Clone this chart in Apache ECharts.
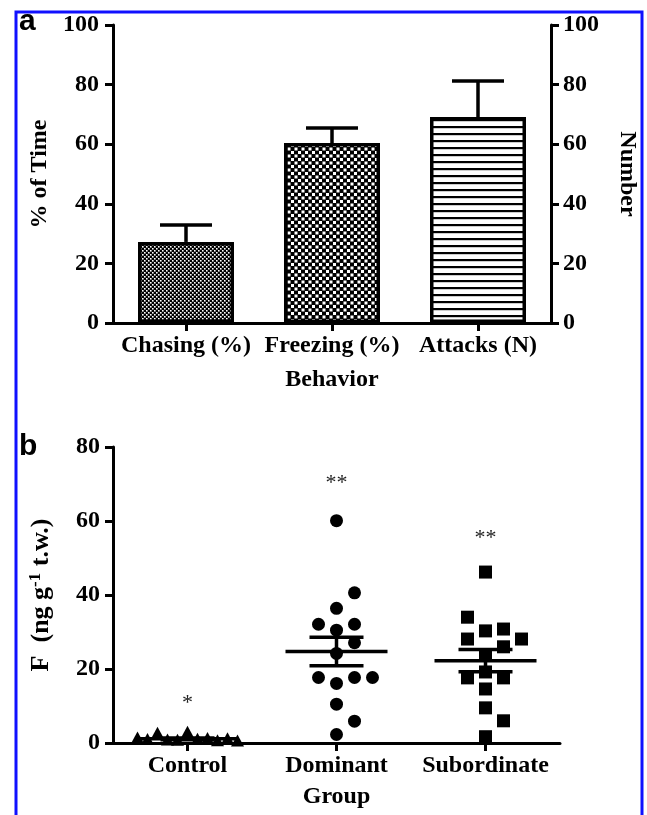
<!DOCTYPE html>
<html>
<head>
<meta charset="utf-8">
<script src="https://cdn.jsdelivr.net/npm/echarts@6/dist/echarts.min.js"></script>
<style>
  html, body { margin: 0; padding: 0; background: #fff; }
  #chart { width: 647px; height: 815px; }
</style>
</head>
<body>
<div id="chart"></div>
<script>
// panel a: behaviour (mean + SEM)
const behaviors = ['Chasing (%)', 'Freezing (%)', 'Attacks (N)'];
const behaviorMean = [27.2, 60.4, 69.1];
const behaviorSem = [5.7, 5.0, 12.1];

// panel b: F levels per group (ng g-1 t.w.)
const groups = ['Control', 'Dominant', 'Subordinate'];
const controlF = [2.8, 0.9, 0.6, 1.1, 0.7, 0.5, 2.5, 1.0, 0.8, 0.4, 1.2];
const dominantF = [2.3, 5.9, 10.5, 16.1, 17.7, 17.7, 17.7, 24.2, 27.1, 30.5, 32.1, 32.1, 36.4, 40.6, 60.1];
const subordinateF = [1.7, 6.0, 9.5, 14.6, 17.6, 17.6, 19.2, 23.8, 26.0, 28.1, 28.1, 30.3, 30.8, 34.0, 46.2];
const starText = ['*', '**', '**'];
const starLevel = [12.2, 71.6, 56.8];

const SERIF = '"Liberation Serif", "Times New Roman", serif';
const gridA = { left: 113, top: 25, width: 440, height: 298 };
const gridB = { left: 113, top: 447, width: 447, height: 296 };
const pxPerUnitB = gridB.height / 80;

function pattern(w, h, draw) {
  const c = document.createElement('canvas');
  c.width = w; c.height = h;
  draw(c.getContext('2d'));
  return { image: c, repeat: 'repeat' };
}
const chaseFill = pattern(4, 4, ctx => {
  ctx.fillStyle = '#000'; ctx.fillRect(0, 0, 4, 4);
  ctx.fillStyle = '#fff'; ctx.fillRect(0, 0, 1.6, 1.6); ctx.fillRect(2, 2, 1.6, 1.6);
});
const freezeFill = pattern(7, 7, ctx => {
  ctx.fillStyle = '#000'; ctx.fillRect(0, 0, 7, 7);
  ctx.fillStyle = '#fff'; ctx.fillRect(0.5, 0.5, 3, 3); ctx.fillRect(4, 4, 3, 3);
});
const attackFill = pattern(4, 7, ctx => {
  ctx.fillStyle = '#fff'; ctx.fillRect(0, 0, 4, 7);
  ctx.fillStyle = '#000'; ctx.fillRect(0, 0, 4, 2.2);
});
const barFills = [chaseFill, freezeFill, attackFill];

// simple beeswarm: put each point in the nearest free lane
function swarm(values, spacing, diam) {
  const placed = [];
  return values.map(v => {
    const y = v * pxPerUnitB;
    for (let k = 0; ; k++) {
      const lane = k === 0 ? 0 : (k % 2 ? (k + 1) / 2 : -k / 2);
      const dx = lane * spacing;
      if (placed.every(p => Math.hypot(p.dx - dx, p.y - y) >= diam)) {
        placed.push({ dx, y });
        return dx;
      }
    }
  });
}

function meanSem(arr) {
  const m = arr.reduce((a, b) => a + b, 0) / arr.length;
  const sd = Math.sqrt(arr.reduce((a, b) => a + (b - m) * (b - m), 0) / (arr.length - 1));
  return [m, sd / Math.sqrt(arr.length)];
}

function dotSeries(gi, values, shape, spacing, diam) {
  const dx = swarm(values, spacing, diam);
  return {
    type: 'custom', xAxisIndex: 1, yAxisIndex: 2, z: 5,
    data: values.map((v, k) => [gi, v, dx[k]]),
    renderItem: (params, api) => {
      const p = api.coord([api.value(0), api.value(1)]);
      const x = p[0] + api.value(2), y = p[1];
      const st = { fill: '#000' };
      if (shape === 'circle') return { type: 'circle', shape: { cx: x, cy: y, r: 6.5 }, style: st };
      if (shape === 'square') return { type: 'rect', shape: { x: x - 6.5, y: y - 6.5, width: 13, height: 13 }, style: st };
      return { type: 'polygon', shape: { points: [[x, y - 7], [x + 6.5, y + 5], [x - 6.5, y + 5]] }, style: st };
    }
  };
}

const stats = [controlF, dominantF, subordinateF].map(meanSem);

const lineStyle = { stroke: '#000', lineWidth: 3.5 };
const axisBase = {
  axisLine: { show: true, lineStyle: { color: '#000', width: 3 } },
  axisTick: { show: true, length: 8, lineStyle: { color: '#000', width: 3 } },
  splitLine: { show: false },
  nameLocation: 'middle',
  nameTextStyle: { fontFamily: SERIF, fontWeight: 'bold', fontSize: 24, color: '#000' }
};
const labelBase = { fontFamily: SERIF, fontWeight: 'bold', fontSize: 24, color: '#000' };

const chart = echarts.init(document.getElementById('chart'));
chart.setOption({
  animation: false,
  backgroundColor: '#fff',
  grid: [gridA, gridB],
  xAxis: [
    Object.assign({}, axisBase, {
      gridIndex: 0, type: 'category', data: behaviors,
      axisTick: Object.assign({}, axisBase.axisTick, { alignWithLabel: true }),
      axisLabel: Object.assign({ margin: 11, interval: 0 }, labelBase),
      name: 'Behavior', nameGap: 45
    }),
    Object.assign({}, axisBase, {
      gridIndex: 1, type: 'category', data: groups,
      axisTick: Object.assign({}, axisBase.axisTick, { alignWithLabel: true }),
      axisLabel: Object.assign({ margin: 11, interval: 0 }, labelBase),
      name: 'Group', nameGap: 42
    })
  ],
  yAxis: [
    Object.assign({}, axisBase, {
      gridIndex: 0, type: 'value', min: 0, max: 100, interval: 20,
      axisLabel: Object.assign({ margin: 14 }, labelBase),
      name: '% of Time', nameGap: 56
    }),
    Object.assign({}, axisBase, {
      gridIndex: 0, type: 'value', position: 'right', min: 0, max: 100, interval: 20,
      axisLabel: Object.assign({ margin: 12 }, labelBase),
      name: 'Number', nameGap: 64, nameRotate: -90
    }),
    Object.assign({}, axisBase, {
      gridIndex: 1, type: 'value', min: 0, max: 80, interval: 20,
      axisLabel: Object.assign({ margin: 13 }, labelBase),
      name: '{n|F  (ng g}{s|-1}{n| t.w.)}', nameGap: 58,
      nameTextStyle: {
        rich: {
          n: { fontFamily: SERIF, fontWeight: 'bold', fontSize: 26, color: '#000', lineHeight: 28 },
          s: { fontFamily: SERIF, fontWeight: 'bold', fontSize: 17, color: '#000', verticalAlign: 'top', lineHeight: 28 }
        }
      }
    })
  ],
  graphic: [
    { type: 'rect', shape: { x: 16, y: 12, width: 626, height: 830 }, style: { fill: 'none', stroke: '#1010ff', lineWidth: 3 }, silent: true },
    { type: 'text', left: 19, top: 7, style: { text: 'a', font: 'bold 30px "Liberation Sans", Arial, sans-serif', fill: '#000' } },
    { type: 'text', left: 19, top: 432, style: { text: 'b', font: 'bold 30px "Liberation Sans", Arial, sans-serif', fill: '#000' } }
  ],
  series: [
    {
      type: 'bar', xAxisIndex: 0, yAxisIndex: 0, barWidth: 96,
      data: behaviorMean.map((v, i) => ({
        value: v,
        itemStyle: { color: barFills[i], borderColor: '#000', borderWidth: 3.5, borderRadius: 0 }
      }))
    },
    {
      type: 'custom', xAxisIndex: 0, yAxisIndex: 0, z: 4,
      data: behaviorMean.map((v, i) => [i, v, behaviorSem[i]]),
      renderItem: (params, api) => {
        const lo = api.coord([api.value(0), api.value(1)]);
        const hi = api.coord([api.value(0), api.value(1) + api.value(2)]);
        return {
          type: 'group', children: [
            { type: 'line', shape: { x1: lo[0], y1: lo[1], x2: hi[0], y2: hi[1] }, style: lineStyle },
            { type: 'line', shape: { x1: hi[0] - 26, y1: hi[1], x2: hi[0] + 26, y2: hi[1] }, style: lineStyle }
          ]
        };
      }
    },
    dotSeries(0, controlF, 'triangle', 10, 10),
    dotSeries(1, dominantF, 'circle', 18, 16),
    dotSeries(2, subordinateF, 'square', 18, 16),
    {
      type: 'custom', xAxisIndex: 1, yAxisIndex: 2, z: 6,
      data: stats.map((s, i) => [i, s[0], s[1]]),
      renderItem: (params, api) => {
        const m = api.coord([api.value(0), api.value(1)]);
        const hi = api.coord([api.value(0), api.value(1) + api.value(2)]);
        const lo = api.coord([api.value(0), api.value(1) - api.value(2)]);
        return {
          type: 'group', children: [
            { type: 'line', shape: { x1: m[0] - 51, y1: m[1], x2: m[0] + 51, y2: m[1] }, style: lineStyle },
            { type: 'line', shape: { x1: m[0] - 27, y1: hi[1], x2: m[0] + 27, y2: hi[1] }, style: lineStyle },
            { type: 'line', shape: { x1: m[0] - 27, y1: lo[1], x2: m[0] + 27, y2: lo[1] }, style: lineStyle },
            { type: 'line', shape: { x1: m[0], y1: hi[1], x2: m[0], y2: lo[1] }, style: lineStyle }
          ]
        };
      }
    },
    {
      type: 'custom', xAxisIndex: 1, yAxisIndex: 2, z: 6,
      data: starLevel.map((v, i) => [i, v]),
      renderItem: (params, api) => {
        const p = api.coord([api.value(0), api.value(1)]);
        return {
          type: 'text', x: p[0], y: p[1] + 5,
          style: { text: starText[params.dataIndex], font: '22px ' + SERIF, fill: '#222', align: 'center', verticalAlign: 'middle' }
        };
      }
    }
  ]
});
</script>
</body>
</html>
